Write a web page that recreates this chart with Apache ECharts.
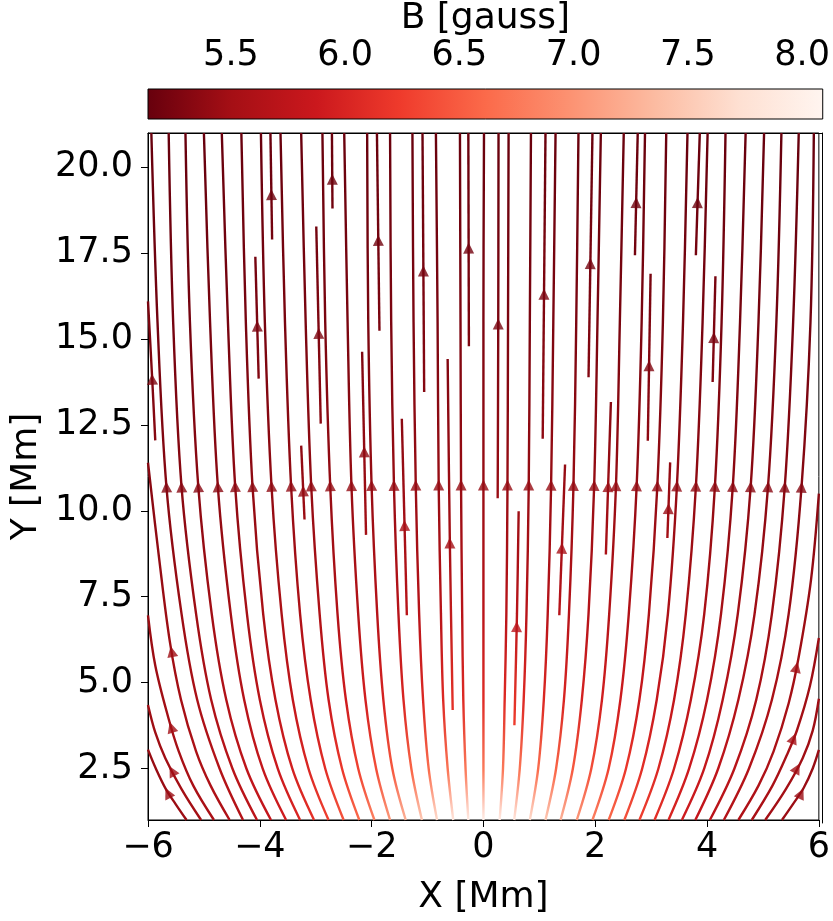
<!DOCTYPE html>
<html>
<head>
<meta charset="utf-8">
<script src="https://cdn.jsdelivr.net/npm/echarts@6/dist/echarts.min.js"></script>
<style>
html,body{margin:0;padding:0;background:#fff;}
#chart{width:833px;height:921px;}
</style>
</head>
<body>
<div id="chart"></div>
<script>
// ---------------- data ----------------
const B_MIN = 5.137, B_MAX = 8.09;            // colour-bar range [gauss]
const X_MIN = -6, X_MAX = 6, Y_MIN = 1, Y_MAX = 21;
const yTickValues = [2.5, 5.0, 7.5, 10.0, 12.5, 15.0, 17.5, 20.0];
const cbTickValues = [5.5, 6.0, 6.5, 7.0, 7.5, 8.0];

// full-height field lines: x position at each of these heights
const fullY = [1, 2.5, 4.5, 7, 10.7, 15.5, 21];
const fullX = [
  [0.00, 0.00, 0.00, 0.00, 0.00, 0.00, 0.01],
  [0.29, 0.35, 0.38, 0.41, 0.43, 0.44, 0.45],
  [0.55, 0.65, 0.72, 0.77, 0.81, 0.83, 0.85],
  [0.83, 0.98, 1.08, 1.15, 1.21, 1.25, 1.29],
  [1.11, 1.30, 1.44, 1.53, 1.61, 1.66, 1.70],
  [1.38, 1.60, 1.76, 1.88, 1.98, 2.04, 2.10],
  [1.67, 1.93, 2.12, 2.25, 2.37, 2.44, 2.51],
  [1.95, 2.24, 2.45, 2.60, 2.74, 2.83, 2.89],
  [2.24, 2.55, 2.79, 2.96, 3.11, 3.21, 3.27],
  [2.52, 2.84, 3.10, 3.30, 3.46, 3.57, 3.65],
  [2.79, 3.13, 3.41, 3.62, 3.80, 3.92, 4.01],
  [3.06, 3.41, 3.71, 3.95, 4.14, 4.26, 4.33],
  [3.31, 3.68, 4.00, 4.25, 4.46, 4.59, 4.69],
  [3.55, 3.95, 4.28, 4.55, 4.78, 4.92, 5.02],
  [3.79, 4.20, 4.56, 4.85, 5.09, 5.24, 5.33],
  [4.05, 4.49, 4.88, 5.16, 5.39, 5.54, 5.64],
  [4.30, 4.75, 5.16, 5.46, 5.69, 5.85, 5.91],
  [-0.27, -0.32, -0.36, -0.38, -0.40, -0.41, -0.42],
  [-0.54, -0.64, -0.72, -0.76, -0.80, -0.82, -0.85],
  [-0.83, -0.98, -1.08, -1.15, -1.21, -1.25, -1.27],
  [-1.10, -1.29, -1.43, -1.52, -1.60, -1.65, -1.67],
  [-1.39, -1.63, -1.79, -1.90, -2.00, -2.06, -2.08],
  [-1.67, -1.92, -2.11, -2.24, -2.36, -2.43, -2.49],
  [-1.95, -2.24, -2.46, -2.61, -2.74, -2.83, -2.88],
  [-2.22, -2.53, -2.77, -2.93, -3.08, -3.18, -3.26],
  [-2.50, -2.83, -3.09, -3.28, -3.44, -3.55, -3.63],
  [-2.77, -3.13, -3.41, -3.61, -3.79, -3.91, -3.98],
  [-3.03, -3.42, -3.72, -3.94, -4.13, -4.25, -4.33],
  [-3.28, -3.68, -4.00, -4.23, -4.44, -4.57, -4.68],
  [-3.53, -3.95, -4.28, -4.52, -4.75, -4.89, -5.00],
  [-3.80, -4.24, -4.60, -4.86, -5.10, -5.25, -5.33],
  [-4.05, -4.49, -4.87, -5.14, -5.40, -5.55, -5.63],
  [-4.30, -4.72, -5.12, -5.40, -5.67, -5.83, -5.94]
];
// field strength [gauss] at the same points
const fullB = [
  [8.08, 6.77, 6.09, 5.71, 5.43, 5.26, 5.15],
  [8.04, 6.76, 6.08, 5.70, 5.43, 5.26, 5.15],
  [7.93, 6.72, 6.07, 5.70, 5.43, 5.26, 5.15],
  [7.75, 6.65, 6.05, 5.69, 5.43, 5.26, 5.15],
  [7.54, 6.58, 6.02, 5.68, 5.43, 5.26, 5.15],
  [7.31, 6.49, 5.99, 5.67, 5.42, 5.25, 5.15],
  [7.07, 6.40, 5.95, 5.65, 5.42, 5.25, 5.15],
  [6.85, 6.31, 5.91, 5.63, 5.41, 5.25, 5.15],
  [6.64, 6.21, 5.87, 5.61, 5.40, 5.25, 5.14],
  [6.46, 6.12, 5.83, 5.59, 5.40, 5.25, 5.14],
  [6.30, 6.04, 5.79, 5.57, 5.39, 5.24, 5.14],
  [6.15, 5.96, 5.75, 5.55, 5.38, 5.24, 5.14],
  [6.03, 5.89, 5.71, 5.53, 5.37, 5.23, 5.14],
  [5.92, 5.82, 5.67, 5.51, 5.36, 5.23, 5.13],
  [5.81, 5.76, 5.63, 5.49, 5.35, 5.22, 5.13],
  [5.72, 5.70, 5.59, 5.47, 5.34, 5.22, 5.13],
  [5.65, 5.65, 5.56, 5.45, 5.33, 5.21, 5.13],
  [8.04, 6.76, 6.08, 5.70, 5.43, 5.26, 5.15],
  [7.93, 6.72, 6.07, 5.70, 5.43, 5.26, 5.15],
  [7.75, 6.65, 6.05, 5.69, 5.43, 5.26, 5.15],
  [7.54, 6.58, 6.02, 5.68, 5.43, 5.26, 5.15],
  [7.31, 6.49, 5.99, 5.67, 5.42, 5.25, 5.15],
  [7.07, 6.40, 5.95, 5.65, 5.42, 5.25, 5.15],
  [6.85, 6.31, 5.91, 5.63, 5.41, 5.25, 5.15],
  [6.64, 6.21, 5.87, 5.61, 5.40, 5.25, 5.14],
  [6.46, 6.12, 5.83, 5.59, 5.40, 5.25, 5.14],
  [6.30, 6.04, 5.79, 5.57, 5.39, 5.24, 5.14],
  [6.15, 5.96, 5.75, 5.55, 5.38, 5.24, 5.14],
  [6.03, 5.89, 5.71, 5.53, 5.37, 5.23, 5.14],
  [5.92, 5.82, 5.67, 5.51, 5.36, 5.23, 5.13],
  [5.81, 5.76, 5.63, 5.49, 5.35, 5.22, 5.13],
  [5.72, 5.70, 5.59, 5.47, 5.34, 5.22, 5.13],
  [5.65, 5.65, 5.56, 5.45, 5.33, 5.21, 5.13]
];

// field lines leaving through the side edges: [x, y, B] from bottom up
const sideLines = [
  [[-4.54, 1, 5.60], [-4.88, 2, 5.60], [-5.14, 3, 5.57], [-5.41, 4.5, 5.52], [-5.61, 6.2, 5.47], [-5.80, 8.6, 5.40], [-6.0, 11.4, 5.32]],
  [[-4.82, 1, 5.55], [-5.19, 2, 5.55], [-5.45, 3, 5.53], [-5.64, 4.0, 5.50], [-5.87, 5.5, 5.46], [-6.0, 6.96, 5.43]],
  [[-5.05, 1, 5.50], [-5.40, 1.9, 5.50], [-5.69, 2.8, 5.48], [-5.87, 3.55, 5.47], [-6.0, 4.35, 5.46]],
  [[-5.31, 1, 5.45], [-5.50, 1.45, 5.45], [-5.68, 1.9, 5.44], [-5.86, 2.5, 5.43], [-6.0, 3.05, 5.42]],
  [[-5.87, 12.05, 5.33], [-5.93, 14, 5.28], [-6.0, 16.1, 5.24]],
  [[4.56, 1, 5.60], [4.92, 2, 5.60], [5.19, 3, 5.57], [5.46, 4.4, 5.52], [5.64, 5.75, 5.48], [5.86, 8.0, 5.41], [6.0, 10.5, 5.34]],
  [[4.80, 1, 5.55], [5.17, 2, 5.55], [5.43, 2.9, 5.53], [5.61, 3.62, 5.51], [5.84, 4.9, 5.47], [6.0, 6.3, 5.44]],
  [[5.04, 1, 5.50], [5.41, 1.9, 5.50], [5.71, 2.8, 5.48], [5.89, 3.6, 5.47], [6.0, 4.53, 5.46]],
  [[5.34, 1, 5.45], [5.54, 1.47, 5.45], [5.73, 1.94, 5.44], [5.89, 2.5, 5.43], [6.0, 3.04, 5.42]]
];

// short stream segments: [x, y, B] from bottom up
const shortLines = [
  [[-3.78, 17.9, 5.22], [-3.81, 21, 5.14]],
  [[-2.70, 18.8, 5.20], [-2.71, 21, 5.15]],
  [[-4.02, 13.85, 5.30], [-4.08, 17.4, 5.22]],
  [[-2.91, 12.54, 5.35], [-2.99, 18.28, 5.20]],
  [[-1.86, 15.24, 5.26], [-1.905, 21, 5.15]],
  [[-1.06, 13.46, 5.32], [-1.09, 21, 5.15]],
  [[-0.26, 14.79, 5.28], [-0.27, 21, 5.15]],
  [[-2.10, 9.3, 5.50], [-2.17, 14.63, 5.28]],
  [[-1.37, 6.96, 5.70], [-1.46, 12.68, 5.35]],
  [[-0.55, 4.2, 6.15], [-0.60, 9.0, 5.52], [-0.64, 14.42, 5.29]],
  [[-3.20, 9.75, 5.45], [-3.26, 11.9, 5.37]],
  [[0.255, 10.37, 5.44], [0.265, 15.5, 5.26], [0.27, 21, 5.15]],
  [[1.06, 12.1, 5.38], [1.11, 21, 5.15]],
  [[1.88, 13.89, 5.31], [1.95, 21, 5.15]],
  [[2.71, 17.44, 5.22], [2.76, 21, 5.15]],
  [[3.80, 17.44, 5.22], [3.87, 21, 5.14]],
  [[2.94, 12.04, 5.37], [2.99, 16.9, 5.23]],
  [[4.10, 13.75, 5.30], [4.15, 16.83, 5.23]],
  [[2.19, 8.73, 5.56], [2.28, 13.17, 5.33]],
  [[1.357, 6.96, 5.69], [1.46, 11.35, 5.40]],
  [[3.29, 9.21, 5.50], [3.34, 11.41, 5.39]],
  [[0.554, 3.76, 6.26], [0.60, 7, 5.70], [0.63, 9.99, 5.46]]
];

// ---------------- styling / layout ----------------
const REDS = ['#fff5f0','#fee0d2','#fcbba1','#fc9272','#fb6a4a','#ef3b2c','#cb181d','#a50f15','#67000d'];
const FONT = 'DejaVu Sans';
const GRID = {left: 148, top: 133, width: 674, height: 690};
const CB_GRID = {left: 148, top: 89, width: 675, height: 30};
const ARROW = 11;
const ARROW_SHRINK = 3;   // px the arrow tip sits behind the stream midpoint

function hex2rgb(h){return [parseInt(h.slice(1,3),16),parseInt(h.slice(3,5),16),parseInt(h.slice(5,7),16)];}
function cmap(b){
  let t = (b - B_MIN) / (B_MAX - B_MIN);
  t = Math.max(0, Math.min(1, t));
  const u = (1 - t) * (REDS.length - 1);
  const i = Math.min(Math.floor(u), REDS.length - 2);
  const f = u - i;
  const a = hex2rgb(REDS[i]), c = hex2rgb(REDS[i + 1]);
  return 'rgb(' + a.map((v, k) => Math.round(v + (c[k] - v) * f)).join(',') + ')';
}
function lineGradient(pts){
  const ys = pts.map(p => p[1]);
  const ymax = Math.max(...ys), ymin = Math.min(...ys);
  const span = (ymax - ymin) || 1;
  const stops = pts.map(p => ({offset: (ymax - p[1]) / span, color: cmap(p[2])}))
                   .sort((a, b) => a.offset - b.offset);
  return new echarts.graphic.LinearGradient(0, 0, 0, 1, stops);
}
const PXX = GRID.width / (X_MAX - X_MIN), PXY = GRID.height / (Y_MAX - Y_MIN);
function arrowOf(pts){
  const L = [0];
  for (let i = 1; i < pts.length; i++) {
    L.push(L[i - 1] + Math.hypot(pts[i][0] - pts[i - 1][0], pts[i][1] - pts[i - 1][1]));
  }
  const half = L[L.length - 1] / 2;
  let k = 0;
  while (k < pts.length - 2 && L[k + 1] < half) k++;
  const f = (half - L[k]) / ((L[k + 1] - L[k]) || 1);
  const p = pts[k], q = pts[k + 1];
  const mx = p[0] + (q[0] - p[0]) * f, my = p[1] + (q[1] - p[1]) * f;
  const mb = p[2] + (q[2] - p[2]) * f;
  const dxp = (q[0] - p[0]) * PXX, dyp = (q[1] - p[1]) * PXY;
  const len = Math.hypot(dxp, dyp) || 1;
  const ux = dxp / len, uy = dyp / len;
  const back = ARROW / 2 + ARROW_SHRINK;
  const cx = mx - back * ux / PXX, cy = my - back * uy / PXY;
  return {
    value: [cx, cy],
    symbolRotate: Math.atan2(-dxp, dyp) * 180 / Math.PI,
    itemStyle: {color: cmap(mb)}
  };
}

const streams = fullX.map((xs, i) => xs.map((x, j) => [x, fullY[j], fullB[i][j]]))
  .concat(sideLines, shortLines);

const series = streams.map(pts => ({
  type: 'line',
  xAxisIndex: 0, yAxisIndex: 0,
  data: pts.map(p => [p[0], p[1]]),
  smooth: 0.35,
  showSymbol: false,
  silent: true,
  clip: true,
  lineStyle: {width: 2.4, color: lineGradient(pts), cap: 'butt'},
  z: 2
}));
series.push({
  type: 'scatter',
  xAxisIndex: 0, yAxisIndex: 0,
  symbol: 'triangle',
  symbolSize: [ARROW, ARROW],
  silent: true,
  data: streams.map(arrowOf),
  z: 3
});
// colour bar
series.push({
  type: 'custom',
  xAxisIndex: 2, yAxisIndex: 2,
  silent: true,
  data: [[B_MIN, B_MAX]],
  encode: {x: [0, 1]},
  renderItem: function (params, api) {
    const a = api.coord([api.value(0), 1]);
    const b = api.coord([api.value(1), 0]);
    const stops = REDS.slice().reverse().map((c, i) => ({offset: i / (REDS.length - 1), color: c}));
    return {
      type: 'rect',
      shape: {x: a[0], y: a[1], width: b[0] - a[0], height: b[1] - a[1]},
      style: {fill: new echarts.graphic.LinearGradient(0, 0, 1, 0, stops), stroke: '#000', lineWidth: 1}
    };
  },
  z: 2
});

const labelStyle = {color: '#000', fontFamily: FONT, fontSize: 35};
const nameStyle = {color: '#000', fontFamily: FONT, fontSize: 36};

const option = {
  animation: false,
  backgroundColor: '#fff',
  grid: [
    Object.assign({show: true, borderColor: '#000', borderWidth: 1, backgroundColor: 'transparent'}, GRID),
    Object.assign({}, GRID),
    Object.assign({show: false}, CB_GRID)
  ],
  xAxis: [
    {
      type: 'value', gridIndex: 0, min: X_MIN, max: X_MAX, interval: 2,
      position: 'bottom',
      axisLine: {show: true, onZero: false, lineStyle: {color: '#000', width: 1}},
      axisTick: {show: true, length: 7, lineStyle: {color: '#000', width: 1}},
      axisLabel: Object.assign({margin: 10, formatter: v => (v < 0 ? '\u2212' + Math.abs(v) : String(v))}, labelStyle),
      splitLine: {show: false},
      name: 'X [Mm]', nameLocation: 'middle', nameGap: 60, nameTextStyle: nameStyle
    },
    {
      type: 'value', gridIndex: 1, min: X_MIN, max: X_MAX, position: 'top',
      axisLine: {show: true, onZero: false, lineStyle: {color: '#000', width: 1}},
      axisTick: {show: false}, axisLabel: {show: false}, splitLine: {show: false}
    },
    {
      type: 'value', gridIndex: 2, min: B_MIN, max: B_MAX, position: 'top',
      axisLine: {show: false},
      axisTick: {show: true, length: 7, customValues: cbTickValues, lineStyle: {color: '#000', width: 1}},
      axisLabel: Object.assign({margin: 16, customValues: cbTickValues, formatter: v => v.toFixed(1)}, labelStyle),
      splitLine: {show: false},
      name: 'B [gauss]', nameLocation: 'middle', nameGap: 51, nameTextStyle: nameStyle
    }
  ],
  yAxis: [
    {
      type: 'value', gridIndex: 0, min: Y_MIN, max: Y_MAX,
      axisLine: {show: true, onZero: false, lineStyle: {color: '#000', width: 1}},
      axisTick: {show: true, length: 7, customValues: yTickValues, lineStyle: {color: '#000', width: 1}},
      axisLabel: Object.assign({margin: 15, customValues: yTickValues, formatter: v => v.toFixed(1)}, labelStyle),
      splitLine: {show: false},
      name: 'Y [Mm]', nameLocation: 'middle', nameGap: 92, nameTextStyle: nameStyle
    },
    {
      type: 'value', gridIndex: 1, min: Y_MIN, max: Y_MAX, position: 'right',
      axisLine: {show: true, onZero: false, lineStyle: {color: '#000', width: 1}},
      axisTick: {show: false}, axisLabel: {show: false}, splitLine: {show: false}
    },
    {
      type: 'value', gridIndex: 2, min: 0, max: 1, show: false
    }
  ],
  series: series
};

const chart = echarts.init(document.getElementById('chart'), null, {renderer: 'canvas'});
chart.setOption(option);
</script>
</body>
</html>
